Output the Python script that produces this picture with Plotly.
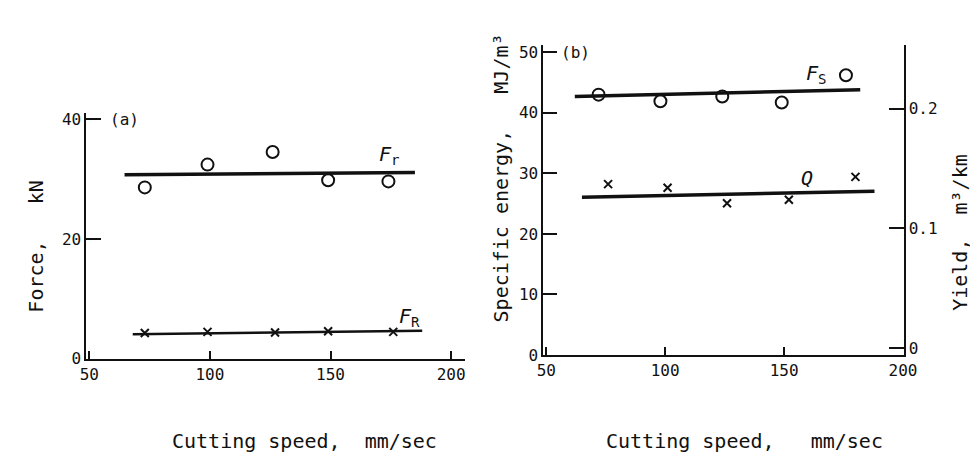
import plotly.graph_objects as go

# ---------------- data ----------------
# panel (a): forces vs cutting speed
speed_fr = [73, 99, 126, 149, 174]
force_fr = [28.6, 32.4, 34.5, 29.8, 29.6]
fit_fr_x = [64.6, 185]
fit_fr_y = [30.7, 31.1]

speed_fR = [73, 99, 127, 149, 176]
force_fR = [4.3, 4.5, 4.4, 4.6, 4.5]
fit_fR_x = [68, 188]
fit_fR_y = [4.1, 4.7]

# panel (b): specific energy and yield vs cutting speed
speed_fs = [72, 98, 124, 149, 176]
energy_fs = [43.0, 41.9, 42.7, 41.7, 46.2]
fit_fs_x = [62, 182]
fit_fs_y = [42.7, 43.8]

speed_q = [76, 101, 126, 152, 180]
yield_q = [0.137, 0.134, 0.121, 0.124, 0.143]
fit_q_x = [65, 188]
fit_q_y = [0.126, 0.131]

x_ticks = [50, 100, 150, 200]
force_ticks = [0, 20, 40]
energy_ticks = [0, 10, 20, 30, 40, 50]
yield_ticks = [0, 0.1, 0.2]
yield_ticktext = ["0", "0.1", "0.2"]

# ---------------- figure ----------------
W, H = 978, 459
FONT = "DejaVu Sans Mono"
BLACK = "#111111"

fig = go.Figure()

circ = dict(symbol="circle-open", size=12, color=BLACK, line=dict(width=2, color=BLACK))
xmk = dict(symbol="x-thin-open", size=8, color=BLACK, line=dict(width=2, color=BLACK))
fitline = dict(color=BLACK, width=3.5)

# panel (a)
fig.add_trace(go.Scatter(x=fit_fr_x, y=fit_fr_y, mode="lines", line=fitline, xaxis="x", yaxis="y"))
fig.add_trace(go.Scatter(x=speed_fr, y=force_fr, mode="markers", marker=circ, xaxis="x", yaxis="y"))
fig.add_trace(go.Scatter(x=fit_fR_x, y=fit_fR_y, mode="lines", line=dict(color=BLACK, width=2.5), xaxis="x", yaxis="y"))
fig.add_trace(go.Scatter(x=speed_fR, y=force_fR, mode="markers", marker=xmk, xaxis="x", yaxis="y"))

# panel (b)
fig.add_trace(go.Scatter(x=fit_fs_x, y=fit_fs_y, mode="lines", line=fitline, xaxis="x2", yaxis="y2"))
fig.add_trace(go.Scatter(x=speed_fs, y=energy_fs, mode="markers", marker=circ, xaxis="x2", yaxis="y2"))
fig.add_trace(go.Scatter(x=fit_q_x, y=fit_q_y, mode="lines", line=fitline, xaxis="x2", yaxis="y3"))
fig.add_trace(go.Scatter(x=speed_q, y=yield_q, mode="markers", marker=xmk, xaxis="x2", yaxis="y3"))

tickfont = dict(family=FONT, size=16, color=BLACK)
axis_common = dict(showgrid=False, zeroline=False, showline=True, linecolor=BLACK,
                   linewidth=2, ticks="inside", tickcolor=BLACK, tickwidth=1.5,
                   tickfont=tickfont)

fig.update_layout(
    width=W, height=H,
    margin=dict(l=0, r=0, t=0, b=0),
    paper_bgcolor="white", plot_bgcolor="white",
    showlegend=False,
    font=dict(family=FONT, color=BLACK),
    xaxis=dict(domain=[73 / W, 460 / W], range=[48.8, 205.8], anchor="y",
               tickvals=x_ticks, ticklen=8, **axis_common),
    yaxis=dict(domain=[(H - 358) / H, (H - 105) / H], range=[0, 41], anchor="x",
               tickvals=force_ticks, ticklen=15, **axis_common),
    xaxis2=dict(domain=[540 / W, 908 / W], range=[48.8, 200.2], anchor="y2",
                tickvals=x_ticks, ticklen=8, **axis_common),
    yaxis2=dict(domain=[(H - 354) / H, (H - 35) / H], range=[0, 51.2], anchor="x2",
                tickvals=energy_ticks, ticklen=14, **axis_common),
    yaxis3=dict(range=[-0.0055, 0.253], overlaying="y2", side="right", anchor="x2",
                tickvals=yield_ticks, ticktext=yield_ticktext, ticklen=15, **axis_common),
)

def ann(text, x, y, size=20, angle=0, xanchor="center", yanchor="middle"):
    fig.add_annotation(text=text, x=x / W, y=(H - y) / H, xref="paper", yref="paper",
                       showarrow=False, textangle=angle, xanchor=xanchor, yanchor=yanchor,
                       font=dict(family=FONT, size=size, color=BLACK))

# axis titles
ann("Force,   kN", 22, 243, angle=-90)
ann("Cutting speed,  mm/sec", 296, 443)
ann("Specific energy,   MJ/m³", 497, 172, angle=-90)
ann("Cutting speed,   mm/sec", 745, 443)
ann("Yield,  m³/km", 965, 228, angle=-90)

# panel labels
ann("(a)", 95, 112, size=16, xanchor="left")
ann("(b)", 556, 43, size=16, xanchor="left")

# series labels
ann("<i>F</i><sub>r</sub>", 370, 148, xanchor="left")
ann("<i>F</i><sub>R</sub>", 390, 315, xanchor="left")
ann("<i>F</i><sub>S</sub>", 806, 65, xanchor="left")
ann("<i>Q</i>", 809, 172)

fig.write_html("out.html")
